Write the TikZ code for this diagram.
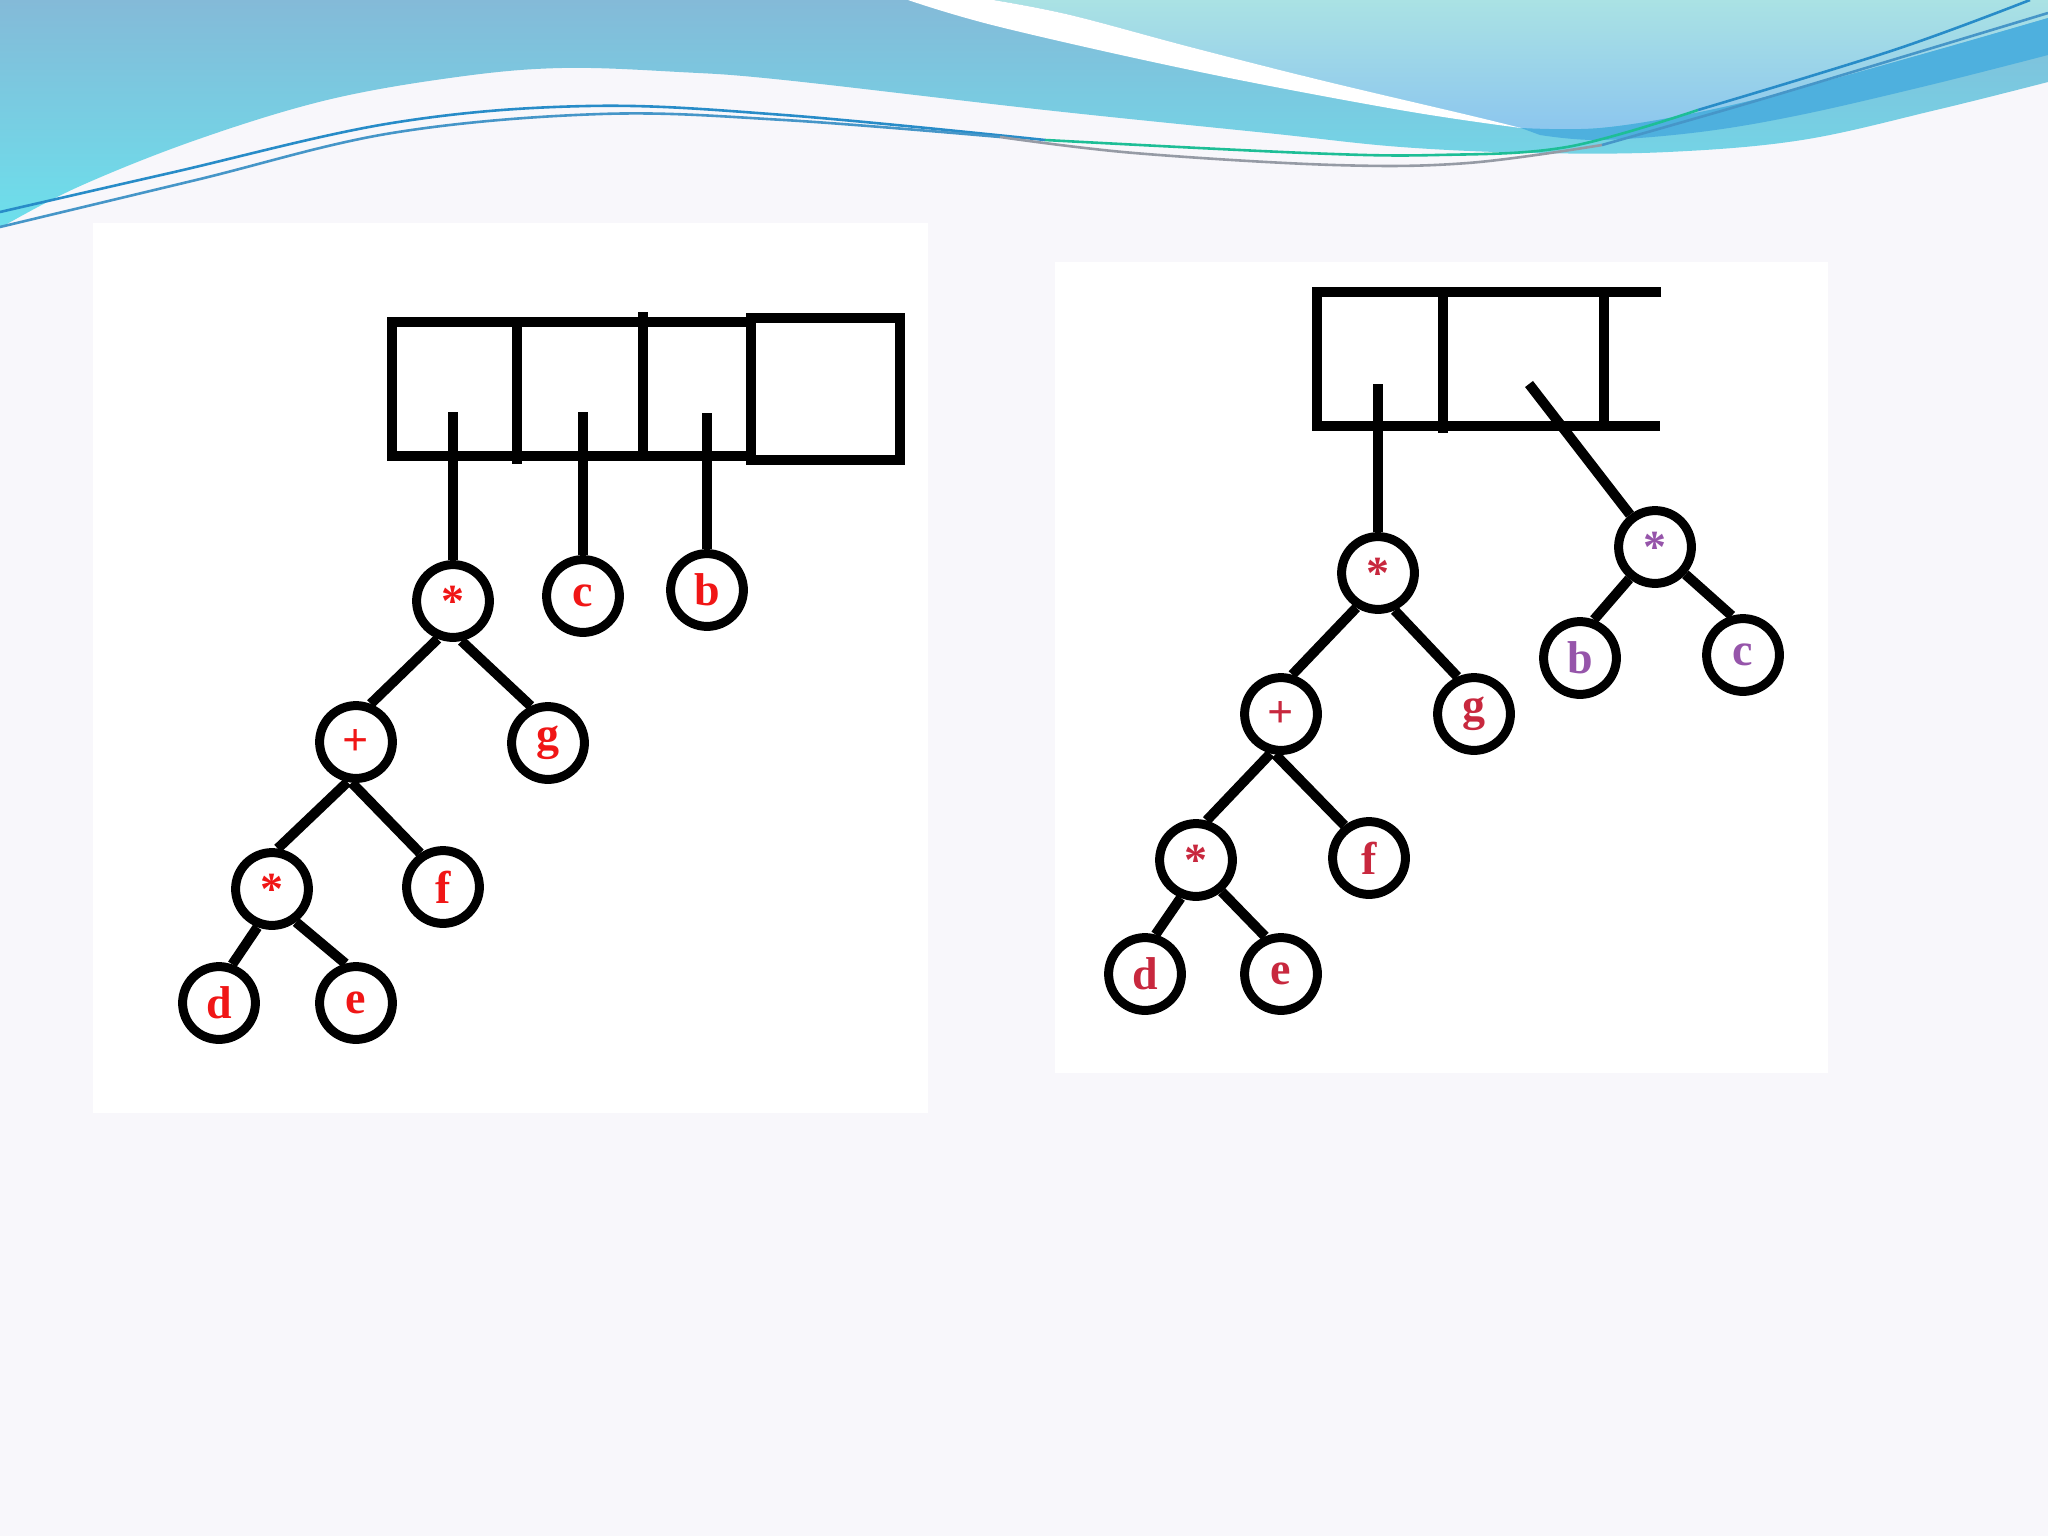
\documentclass[tikz,border=0pt]{standalone}
\usepackage{fontspec}
\setmainfont{Liberation Serif}
\newcommand\lblfont{\bfseries\fontsize{23}{23}\selectfont}
\definecolor{bgc}{RGB}{248,247,251}
\definecolor{lred}{RGB}{240,22,22}
\definecolor{rred}{RGB}{200,40,62}
\definecolor{rpur}{RGB}{150,85,170}
\definecolor{wavetop}{RGB}{132,186,216}
\definecolor{wavebot}{RGB}{108,224,236}
\definecolor{lighttop}{RGB}{170,226,228}
\definecolor{lightbot}{RGB}{140,198,238}
\definecolor{bandc}{RGB}{78,176,222}
\definecolor{lnblue}{RGB}{40,140,200}
\definecolor{lngreen}{RGB}{30,190,150}
\definecolor{lngrey}{RGB}{150,155,165}
\definecolor{lnblue2}{RGB}{70,150,200}
\begin{document}
\begin{tikzpicture}[x=0.5pt,y=-0.5pt,
  tn/.style={circle,draw=black,line width=4.5pt,minimum size=36.4pt,inner sep=0pt,font=\lblfont},
  conn/.style={line width=5pt},
  boxline/.style={line width=5pt,line join=miter},
  thinline/.style={line width=1.3pt},
  ]
\useasboundingbox (0,0) rectangle (2048,1536);
% background
\fill[bgc] (0,0) rectangle (2048,1536);
\fill[white] (93,223) rectangle (928,1113);
\fill[white] (1055,262) rectangle (1828,1073);
% banner: base wave
\shade[top color=wavetop,bottom color=wavebot] (0,0) -- (2048,0) -- (2048,82)
  -- plot[smooth,tension=0.6] coordinates {(2048,82) (1936,110) (1802,140) (1668,152) (1535,153) (1401,147) (1267,133) (1045,110) (784,80) (679,72) (562,68) (457,77) (327,100) (196,140) (78,187) (0,228)}
  -- cycle;
% light upper-right region
\shade[top color=lighttop,bottom color=lightbot] (993,0)
  -- plot[smooth,tension=0.6] coordinates {(993,0) (1070,15) (1190,47) (1320,80) (1468,115) (1521,128) (1600,128) (1700,112) (1800,88) (1930,52) (2048,18)}
  -- (2048,0) -- cycle;
% darker band
\fill[bandc] plot[smooth,tension=0.6] coordinates {(1521,128) (1600,128) (1700,112) (1800,88) (1930,52) (2048,18)}
  -- (2048,55)
  -- plot[smooth,tension=0.6] coordinates {(2048,55) (1930,85) (1800,115) (1700,132) (1600,140) (1540,135)} -- cycle;
% white swoosh
\fill[white] (908,0)
  -- plot[smooth,tension=0.6] coordinates {(908,0) (1000,27) (1200,72) (1400,110) (1521,128)}
  -- plot[smooth,tension=0.6] coordinates {(1521,128) (1468,115) (1320,80) (1190,47) (1070,15) (993,0)}
  -- cycle;
% thin lines
\draw[thinline,lnblue] plot[smooth,tension=0.6] coordinates {(0,212) (170,173) (392,123) (588,106) (784,115) (1045,140)};
\draw[thinline,lngreen] plot[smooth,tension=0.6] coordinates {(1045,140) (1306,153) (1437,155) (1567,147) (1698,110)};
\draw[thinline,lnblue] plot[smooth,tension=0.6] coordinates {(1698,110) (1894,50) (2030,0)};
\draw[thinline,lnblue2] plot[smooth,tension=0.6] coordinates {(0,227) (196,180) (392,133) (601,114) (784,120) (1000,137)};
\draw[thinline,lngrey] plot[smooth,tension=0.6] coordinates {(1000,137) (1134,153) (1334,165) (1468,163) (1602,145)};
\draw[thinline,lnblue2] plot[smooth,tension=0.6] coordinates {(1602,145) (1735,107) (1869,67) (2048,13)};

% ===== left diagram =====
\draw[boxline] (392,322) rectangle (751,456);
\draw[boxline] (751,318) rectangle (900,460);
\draw[boxline] (517,322) -- (517,464);
\draw[boxline] (643,312) -- (643,456);
\coordinate (Lp1) at (453,412);
\coordinate (Lp2) at (583,412);
\coordinate (Lp3) at (707,413);
\node[tn,text=lred] (Lroot) at (453,601) {*};
\node[tn,text=lred] (Lc) at (583,596) {c};
\node[tn,text=lred] (Lb) at (707,590) {b};
\node[tn,text=lred] (Lplus) at (356,742) {+};
\node[tn,text=lred] (Lg) at (548,743) {g};
\node[tn,text=lred] (Ls) at (272,889) {*};
\node[tn,text=lred] (Lf) at (443,887) {f};
\node[tn,text=lred] (Ld) at (219,1003) {d};
\node[tn,text=lred] (Le) at (356,1003) {e};
\draw[conn] (Lp1) -- (Lroot.north);
\draw[conn] (Lp2) -- (Lc.north);
\draw[conn] (Lp3) -- (Lb.north);
\draw[conn] (Lroot.248) -- (Lplus.69);
\draw[conn] (Lroot.282) -- (Lg.115);
\draw[conn] (Lplus.258) -- (Ls.82);
\draw[conn] (Lplus.264) -- (Lf.124);
\draw[conn] (Ls.249) -- (Ld.71);
\draw[conn] (Ls.306) -- (Le.105);

% ===== right diagram =====
\draw[boxline] (1661,292) -- (1317,292) -- (1317,426) -- (1660,426);
\draw[boxline] (1443,292) -- (1443,433);
\draw[boxline] (1604,292) -- (1604,426);
\coordinate (Rp1) at (1378,384);
\coordinate (Rp2) at (1529,384);
\node[tn,text=rred] (Rroot) at (1378,573) {*};
\node[tn,text=rred] (Rplus) at (1281,714) {+};
\node[tn,text=rred] (Rg) at (1474,714) {g};
\node[tn,text=rred] (Rs) at (1196,860) {*};
\node[tn,text=rred] (Rf) at (1369,858) {f};
\node[tn,text=rred] (Rd) at (1145,974) {d};
\node[tn,text=rred] (Re) at (1281,974) {e};
\node[tn,text=rpur] (Rt) at (1655,547) {*};
\node[tn,text=rpur] (Rb) at (1580,658) {b};
\node[tn,text=rpur] (Rc) at (1743,655) {c};
\draw[conn] (Rp1) -- (Rroot.north);
\draw[conn] (Rp2) -- (Rt);
\draw[conn] (Rroot.238) -- (Rplus.74);
\draw[conn] (Rroot.294) -- (Rg.114);
\draw[conn] (Rplus.255) -- (Rs.75);
\draw[conn] (Rplus.262) -- (Rf.127);
\draw[conn] (Rs.248) -- (Rd.75);
\draw[conn] (Rs.309) -- (Re.113);
\draw[conn] (Rt.231) -- (Rb.70);
\draw[conn] (Rt.318) -- (Rc.106);
\end{tikzpicture}
\end{document}
